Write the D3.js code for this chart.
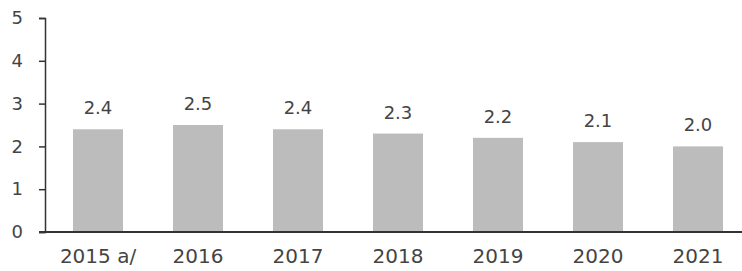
<!doctype html>
<html lang="en">
  <head>
    <meta charset="UTF-8" />
    <title>Bar chart 2015-2021</title>
    <style>
      body {
        margin: 0;
        background: #fff;
      }
      svg {
        display: block;
        font-family: "DejaVu Sans", Verdana, sans-serif;
      }
    </style>
  </head>
  <body>
    <svg id="chart" width="742" height="271"></svg>

    <script src="https://d3js.org/d3.v7.min.js"></script>
    <script>
      const categories = ["2015 a/", "2016", "2017", "2018", "2019", "2020", "2021"];
      const values = [2.4, 2.5, 2.4, 2.3, 2.2, 2.1, 2.0];
      const yTicks = [0, 1, 2, 3, 4, 5];

      const svg = d3.select("#chart");
      const axisX = 45;
      const baseY = 232;

      const x = d3
        .scaleBand()
        .domain(categories)
        .range([48, 748])
        .paddingInner(0.5)
        .paddingOuter(0.25);

      const y = d3.scaleLinear().domain([0, 5]).range([baseY, 18]);

      // bars
      svg
        .append("g")
        .selectAll("rect")
        .data(values)
        .join("rect")
        .attr("x", (d, i) => x(categories[i]))
        .attr("y", (d) => y(d))
        .attr("width", x.bandwidth())
        .attr("height", (d) => baseY - y(d))
        .attr("fill", "#bcbcbc");

      // value labels
      svg
        .append("g")
        .selectAll("text")
        .data(values)
        .join("text")
        .attr("x", (d, i) => x(categories[i]) + x.bandwidth() / 2)
        .attr("y", (d) => y(d) - 15)
        .attr("text-anchor", "middle")
        .attr("font-size", 18)
        .attr("fill", "#444")
        .text((d) => d.toFixed(1));

      // y axis
      const yAxis = svg
        .append("g")
        .attr("transform", `translate(${axisX},0)`)
        .call(
          d3
            .axisLeft(y)
            .tickValues(yTicks)
            .tickFormat(d3.format("d"))
            .tickSize(6)
            .tickPadding(16),
        );
      yAxis.select(".domain").attr("stroke", "#333").attr("stroke-width", 1.5);
      yAxis.selectAll(".tick line").attr("stroke", "#333").attr("stroke-width", 1.5);
      yAxis
        .selectAll(".tick text")
        .attr("font-size", 18)
        .attr("font-family", "DejaVu Sans, sans-serif")
        .attr("fill", "#444");

      // x axis
      const xAxis = svg
        .append("g")
        .attr("transform", `translate(0,${baseY})`)
        .call(d3.axisBottom(x).tickSize(0).tickPadding(17));
      xAxis.select(".domain").remove();
      xAxis
        .selectAll(".tick text")
        .attr("font-size", 20)
        .attr("font-family", "DejaVu Sans, sans-serif")
        .attr("fill", "#444");

      svg
        .append("line")
        .attr("x1", 39)
        .attr("x2", 742)
        .attr("y1", baseY)
        .attr("y2", baseY)
        .attr("stroke", "#333")
        .attr("stroke-width", 2);
    </script>
  </body>
</html>
